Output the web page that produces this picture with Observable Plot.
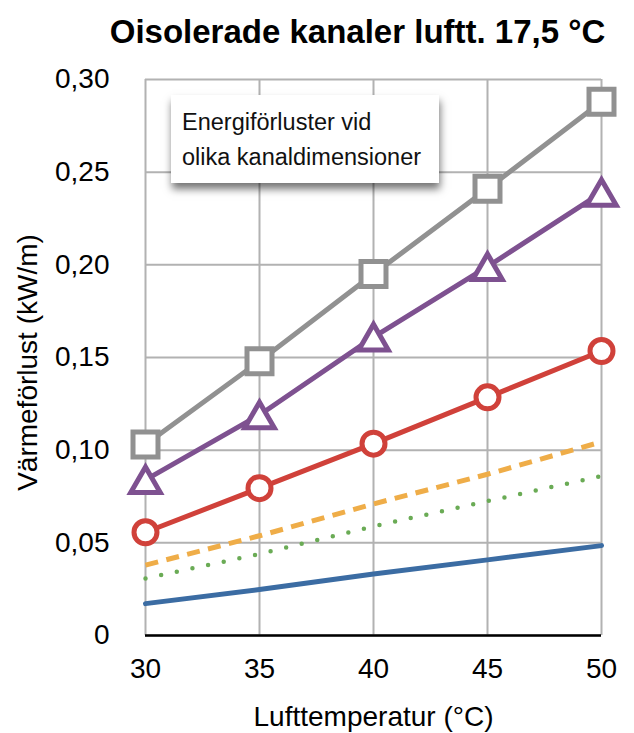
<!DOCTYPE html>
<html>
<head>
<meta charset="utf-8">
<script src="https://cdn.jsdelivr.net/npm/d3@7"></script>
<script src="https://cdn.jsdelivr.net/npm/@observablehq/plot@0.6"></script>
<style>
  html, body { margin: 0; padding: 0; background: #fff; }
  #wrap { position: relative; width: 634px; height: 733px; }
  #note {
    position: absolute; left: 171px; top: 95px; width: 268px; height: 88px;
    background: #fff; box-sizing: border-box;
    box-shadow: 1px 6px 8px rgba(0,0,0,0.55);
    font-family: "Liberation Sans", Arial, sans-serif; font-size: 23.5px; color: #111;
    padding: 10px 0 0 11px; line-height: 35px;
  }
</style>
</head>
<body>
<div id="wrap"></div>
<script>
const title = "Oisolerade kanaler luftt. 17,5 °C";
const xLabel = "Lufttemperatur (°C)";
const yLabel = "Värmeförlust (kW/m)";
const noteLines = ["Energiförluster vid", "olika kanaldimensioner"];

const xTicks = [30, 35, 40, 45, 50];
const yTicks = [0, 0.05, 0.10, 0.15, 0.20, 0.25, 0.30];

const temps = [30, 35, 40, 45, 50];
const grayVals   = [0.103, 0.148, 0.195, 0.241, 0.288];
const purpleVals = [0.084, 0.119, 0.161, 0.199, 0.239];
const redVals    = [0.0557, 0.0795, 0.1035, 0.1285, 0.1535];
const orangeVals = [0.038, 0.0538, 0.071, 0.087, 0.1045];
const greenVals  = [0.0308, 0.044, 0.0589, 0.0725, 0.086];
const blueVals   = [0.0172, 0.0248, 0.0332, 0.0408, 0.0485];

const rows = vals => temps.map((x, i) => ({x, y: vals[i]}));

const triSym = {
  draw(ctx, size) {
    const r = Math.sqrt(size / Math.PI);
    const L = 2 * r, h = L * Math.sqrt(3) / 2;
    ctx.moveTo(0, -h / 2);
    ctx.lineTo(L / 2, h / 2);
    ctx.lineTo(-L / 2, h / 2);
    ctx.closePath();
  }
};

const fmtY = d => d === 0 ? "0" : d.toFixed(2).replace(".", ",");
const font = "Liberation Sans, Arial, sans-serif";

const C = {
  grid: "#b2b2b2", gray: "#919191", purple: "#7e5190", red: "#d0413a",
  orange: "#efad48", green: "#6aab55", blue: "#3b6ca3"
};

const chart = Plot.plot({
  width: 634, height: 733,
  marginTop: 79, marginBottom: 98, marginLeft: 145, marginRight: 33,
  style: {fontFamily: font, background: "white", color: "#000"},
  x: {domain: [30, 50]},
  y: {domain: [0, 0.30]},
  marks: [
    Plot.gridX(xTicks, {stroke: C.grid, strokeOpacity: 1, strokeWidth: 2}),
    Plot.gridY(yTicks, {stroke: C.grid, strokeOpacity: 1, strokeWidth: 2}),
    Plot.ruleY([0], {stroke: "#000", strokeWidth: 2.7}),
    Plot.axisX({ticks: xTicks, tickSize: 0, tickPadding: 23, fontSize: 28, tickFormat: d => String(d), label: null}),
    Plot.axisY({ticks: yTicks, tickSize: 0, tickPadding: 36, fontSize: 28, tickFormat: fmtY, label: null}),
    Plot.line(rows(blueVals), {x: "x", y: "y", stroke: C.blue, strokeWidth: 5}),
    Plot.line(rows(greenVals), {x: "x", y: "y", stroke: C.green, strokeWidth: 4.5, strokeDasharray: "0,16", strokeLinecap: "round"}),
    Plot.line(rows(orangeVals), {x: "x", y: "y", stroke: C.orange, strokeWidth: 5, strokeDasharray: "13,8.5", strokeLinecap: "butt"}),
    Plot.line(rows(redVals), {x: "x", y: "y", stroke: C.red, strokeWidth: 5}),
    Plot.line(rows(purpleVals), {x: "x", y: "y", stroke: C.purple, strokeWidth: 5}),
    Plot.line(rows(grayVals), {x: "x", y: "y", stroke: C.gray, strokeWidth: 5}),
    Plot.dot(rows(redVals), {x: "x", y: "y", r: 11.5, fill: "white", stroke: C.red, strokeWidth: 5}),
    Plot.dot(rows(purpleVals), {x: "x", y: "y", r: 14.75, symbol: triSym, fill: "white", stroke: C.purple, strokeWidth: 5, strokeLinejoin: "miter"}),
    Plot.dot(rows(grayVals), {x: "x", y: "y", r: 14.1, symbol: "square", fill: "white", stroke: C.gray, strokeWidth: 5, strokeLinejoin: "miter"}),
    Plot.text([xLabel], {frameAnchor: "bottom", dy: 90, lineAnchor: "bottom", fontSize: 28, fill: "#000"}),
    Plot.text([yLabel], {frameAnchor: "left", textAnchor: "middle", dx: -109, dy: 5, rotate: -90, lineAnchor: "bottom", fontSize: 28, fill: "#000"}),
    Plot.text([title], {frameAnchor: "top", dx: -16, dy: -37, lineAnchor: "bottom", fontSize: 33, fontWeight: "bold", fill: "#000"})
  ]
});

const wrap = document.getElementById("wrap");
wrap.appendChild(chart);
const note = document.createElement("div");
note.id = "note";
note.innerHTML = noteLines.join("<br>");
wrap.appendChild(note);
</script>
</body>
</html>
